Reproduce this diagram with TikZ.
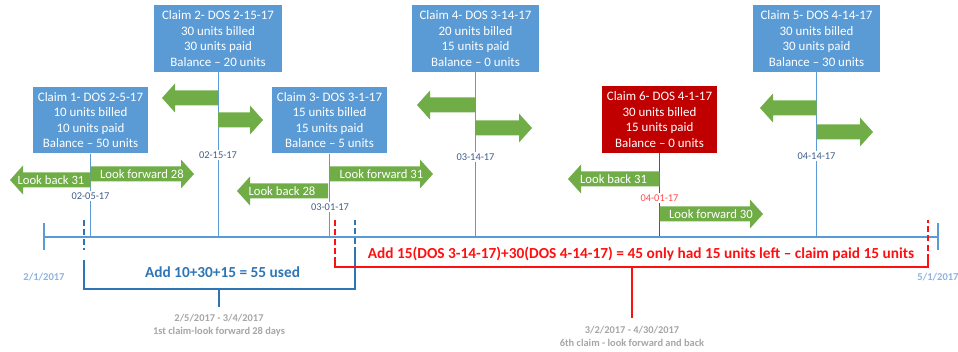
\documentclass[tikz,border=0pt]{standalone}
\usepackage{fontspec}
\setmainfont{Carlito}

\definecolor{claimblue}{HTML}{5B9BD5}
\definecolor{claimred}{HTML}{C00000}
\definecolor{lookgreen}{HTML}{70AD47}
\definecolor{datetext}{HTML}{3F5F8F}
\definecolor{sumblue}{HTML}{2E75B6}
\definecolor{sumred}{HTML}{FF1010}
\definecolor{notegray}{HTML}{A6A6A6}
\definecolor{edgeblue}{HTML}{8DB3E2}

% green block arrow: start x, centre y, tip x
\newcommand\lookarrow[3]{%
  \pgfmathsetmacro\headx{#3-13*sign(#3-#1)}%
  \fill[lookgreen] (#1,#2-7.5) -- (\headx,#2-7.5) -- (\headx,#2-14.5) -- (#3,#2)
    -- (\headx,#2+14.5) -- (\headx,#2+7.5) -- (#1,#2+7.5) -- cycle;}

\begin{document}
\begin{tikzpicture}[x=0.75pt,y=-0.75pt,
    claim/.style={rectangle,fill=claimblue,text=white,align=center,inner sep=2pt,
      minimum height=50pt,font=\fontsize{9.7}{11.7}\selectfont},
    claimline/.style={draw=claimblue,line width=0.7pt},
    timeline/.style={draw=claimblue,line width=0.8pt},
    looktext/.style={text=white,inner sep=0pt,font=\fontsize{9.5}{11}\selectfont},
    date/.style={fill=white,text=datetext,inner sep=1pt,font=\fontsize{7.8}{9}\selectfont},
    edgedate/.style={text=edgeblue,inner sep=0pt,font=\fontsize{7.9}{9}\selectfont\bfseries},
    note/.style={text=notegray,inner sep=0pt,font=\fontsize{7.8}{9}\selectfont\bfseries},
    sumline/.style={draw=sumblue,line width=0.8pt},
    redline/.style={draw=sumred,line width=0.8pt},
    cut/.style={dash pattern=on 4.5pt off 2.5pt}]
\useasboundingbox (0,0) rectangle (958,352);

% claims
\node[claim,minimum width=86.25pt] (c1) at (90.5,120) {Claim 1- DOS 2-5-17\\10 units billed\\10 units paid\\Balance -- 50 units};
\node[claim,minimum width=96pt] (c2) at (218,38.5) {Claim 2- DOS 2-15-17\\30 units billed\\30 units paid\\Balance -- 20 units};
\node[claim,minimum width=86.25pt] (c3) at (329.5,120) {Claim 3- DOS 3-1-17\\15 units billed\\15 units paid\\Balance -- 5 units};
\node[claim,minimum width=95.25pt] (c4) at (475.5,38.5) {Claim 4- DOS 3-14-17\\20 units billed\\15 units paid\\Balance -- 0 units};
\node[claim,minimum width=86.25pt,fill=claimred] (c6) at (659.5,119.5) {Claim 6- DOS 4-1-17\\30 units billed\\15 units paid\\Balance -- 0 units};
\node[claim,minimum width=95.25pt] (c5) at (816.5,38.5) {Claim 5- DOS 4-14-17\\30 units billed\\30 units paid\\Balance -- 30 units};

% time line
\coordinate (start) at (44,237);
\coordinate (end) at (938,237);
\draw[claimline] (c1.south) -- (c1.south |- start);
\draw[claimline] (c2.south) -- (c2.south |- start);
\draw[claimline] (c3.south) -- (c3.south |- start);
\draw[claimline] (c4.south) -- (c4.south |- start);
\draw[claimline] (c5.south) -- (c5.south |- start);
\draw[redline,line width=0.7pt] (c6.south) -- (c6.south |- start) -- ++(6,0);
\draw[timeline] (start) -- (end);
\draw[timeline] (start) ++(0,-14) -- ++(0,27);
\draw[timeline] (end) ++(0,-14) -- ++(0,27);
\node[edgedate] (t0) at (44,277) {2/1/2017};
\node[edgedate] (t1) at (938,277) {5/1/2017};

% look back / look forward
\lookarrow{90.5}{180}{10}
\lookarrow{90.5}{174}{194}
\node[looktext] (b1) at (51,180) {Look back 31};
\node[looktext] (f1) at (142,174) {Look forward 28};
\lookarrow{218}{98}{162}
\lookarrow{218}{120}{263}
\lookarrow{328}{191}{237}
\lookarrow{330}{174}{433}
\node[looktext] (b3) at (282,191) {Look back 28};
\node[looktext] (f3) at (381.5,174) {Look forward 31};
\lookarrow{475.5}{105}{417}
\lookarrow{475.5}{128}{532}
\lookarrow{659.5}{179}{568}
\lookarrow{659.5}{214}{763}
\node[looktext] (b6) at (613.5,179) {Look back 31};
\node[looktext] (f6) at (711,214) {Look forward 30};
\lookarrow{816.5}{108}{760}
\lookarrow{816.5}{132}{873}

% dates of service
\node[date] (d1) at (90.5,196) {02-05-17};
\node[date] (d2) at (218,155) {02-15-17};
\node[date] (d3) at (330,207) {03-01-17};
\node[date] (d4) at (475.5,157) {03-14-17};
\node[date,text=sumred!75] (d6) at (659.5,198) {04-01-17};
\node[date] (d5) at (816.5,156) {04-14-17};

% first claim window
\draw[sumline,cut] (84,220) -- (84,250);
\draw[sumline] (84,260) -- (84,289) -- (355,289) -- (355,253);
\draw[sumline,cut] (355,253) -- (355,220);
\node[text=sumblue,font=\fontsize{11.5}{13}\selectfont\bfseries] (s1) at (222.5,272) {Add 10+30+15 = 55 used};
\draw[sumline] (219,289) -- (219,307);
\node[note] (n1) at (219,318) {2/5/2017 - 3/4/2017};
\node[note] (n2) at (219,332) {1st claim-look forward 28 days};

% sixth claim window
\draw[redline,cut] (335,220) -- (335,260);
\draw[redline] (335,260) -- (335,267) -- (928,267) -- (928,260);
\draw[redline,cut] (928,260) -- (928,220);
\node[text=sumred,font=\fontsize{11.5}{13}\selectfont\bfseries] (s6) at (641,254) {Add 15(DOS 3-14-17)+30(DOS 4-14-17) = 45 only had 15 units left -- claim paid 15 units};
\draw[redline] (632,267) -- (632,318);
\node[note] (n3) at (632,330) {3/2/2017 - 4/30/2017};
\node[note] (n4) at (632,343) {6th claim - look forward and back};
\end{tikzpicture}
\end{document}
